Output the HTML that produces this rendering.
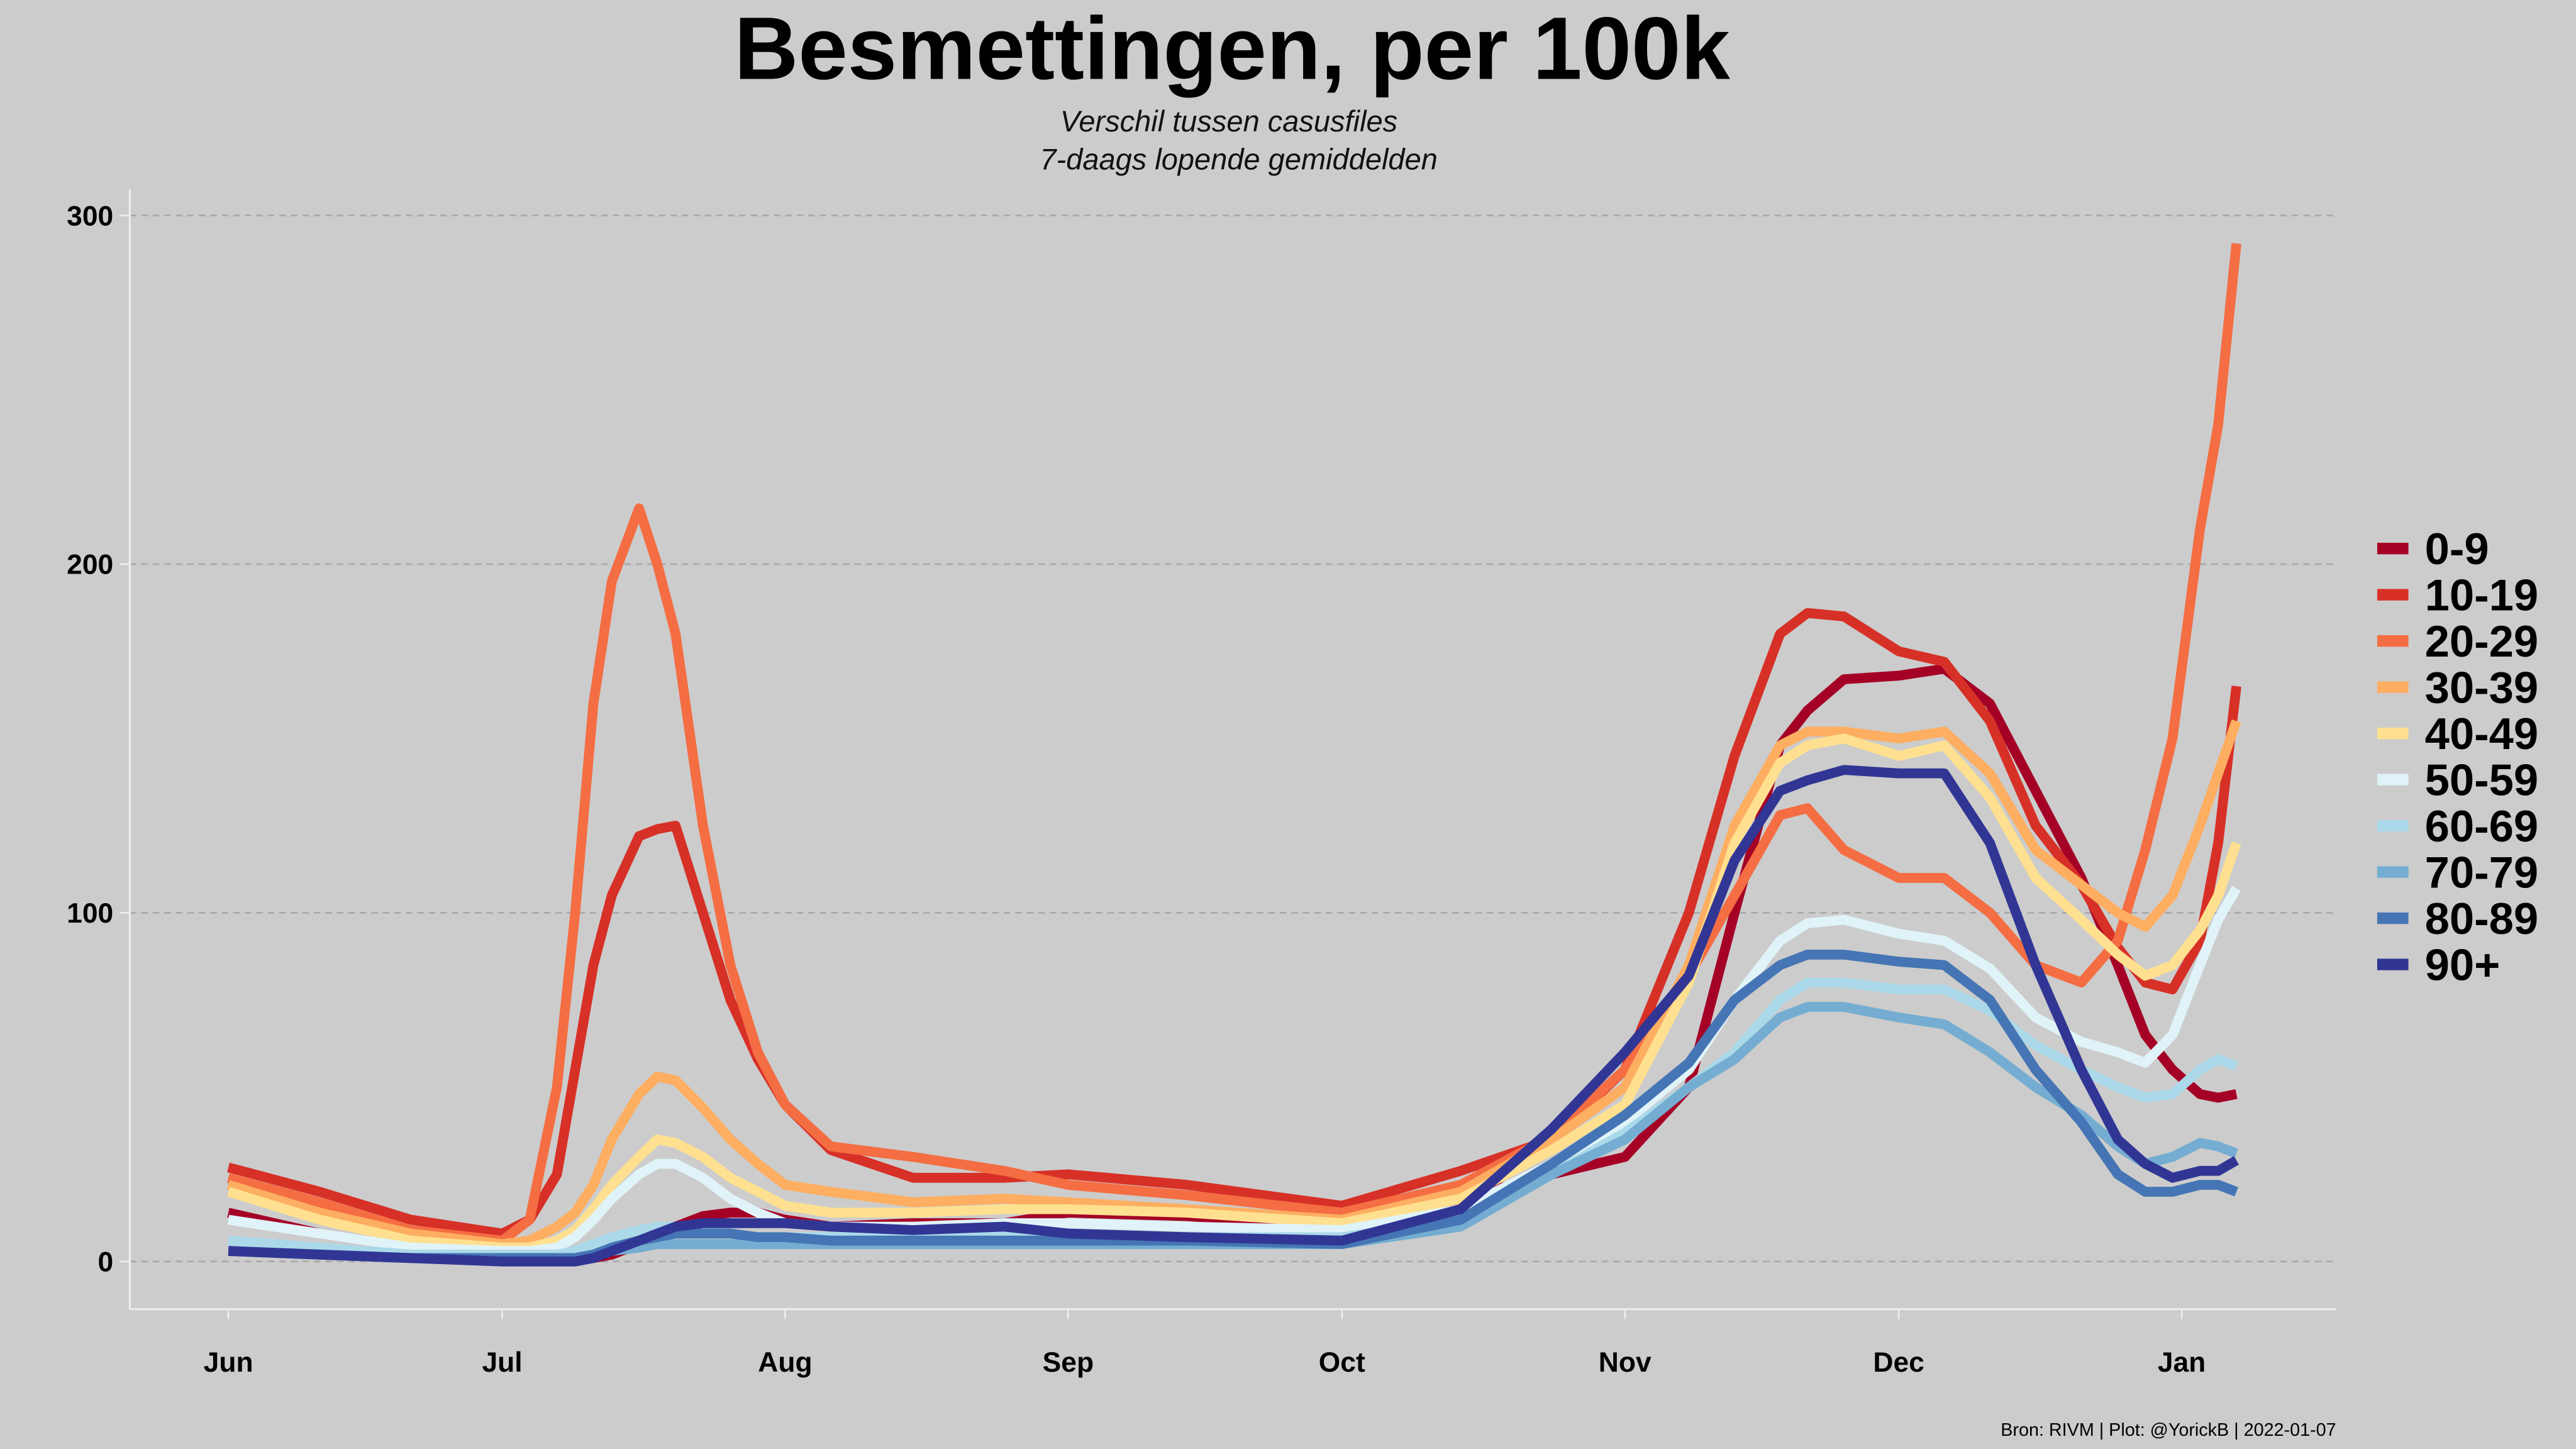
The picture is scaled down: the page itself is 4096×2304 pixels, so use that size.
<!DOCTYPE html>
<html><head><meta charset="utf-8"><style>
html,body{margin:0;padding:0;background:#cccccc;}
svg{display:block;font-family:"Liberation Sans",sans-serif;}
</style></head><body>
<svg id="chart" width="4096" height="2304" viewBox="0 0 1568 881" preserveAspectRatio="none" xmlns="http://www.w3.org/2000/svg">
<rect x="0" y="0" width="1568" height="881" fill="#cccccc"/>
<text x="750" y="48" text-anchor="middle" font-size="54" font-weight="bold" fill="#000">Besmettingen, per 100k</text>
<text x="748" y="80" text-anchor="middle" font-size="18" font-style="italic" fill="#111">Verschil tussen casusfiles</text>
<text x="754" y="103" text-anchor="middle" font-size="18" font-style="italic" fill="#111">7-daags lopende gemiddelden</text>
<g id="grid"></g>
<g id="axes"></g>
<g id="series"></g>
<g id="legend"></g>
<text x="1422" y="873" text-anchor="end" font-size="11" fill="#000">Bron: RIVM | Plot: @YorickB  |  2022-01-07</text>
</svg>
<script>
const days = [0,10,20,30,33,36,38,40,42,45,47,49,52,55,58,61,66,75,85,92,105,122,135,145,153,160,165,170,173,177,183,188,193,198,203,207,210,213,216,218,220];
const seriesNames = ["0-9","10-19","20-29","30-39","40-49","50-59","60-69","70-79","80-89","90+"];
const seriesColors = ["#a50026","#d73027","#f46d43","#fdae61","#fee090","#e0f3f8","#abd9e9","#74add1","#4575b4","#313695"];
const v0_9   = [14,8,4,2,1,1,1,1,2,5,8,10,13,14,14,12,10,11,11,14,13,10,18,25,30,50,100,148,158,167,168,170,160,135,110,85,65,55,48,47,48];
const v10_19 = [27,20,12,8,12,25,55,85,105,122,124,125,100,75,58,45,32,24,24,25,22,16,26,35,55,100,145,180,186,185,175,172,155,125,108,90,80,78,92,120,165];
const v20_29 = [24,17,9,6,12,50,100,160,195,216,200,180,125,85,60,45,33,30,26,22,19,14,22,36,55,82,105,128,130,118,110,110,100,85,80,92,118,150,210,240,292];
const v30_39 = [22,14,8,5,6,10,14,22,35,48,53,52,44,35,28,22,20,17,18,17,15,12,20,35,50,85,125,148,152,152,150,152,140,118,108,100,96,105,125,140,155];
const v40_49 = [20,12,6,4,4,6,9,15,22,30,35,34,30,24,20,16,14,14,15,15,14,11,18,32,45,80,120,143,148,150,145,148,133,110,98,88,82,85,95,105,120];
const v50_59 = [12,8,4,3,3,4,7,12,18,25,28,28,24,18,14,11,10,10,11,11,10,9,15,28,40,55,75,92,97,98,94,92,84,70,63,60,57,65,85,98,107];
const v60_69 = [6,4,2,2,2,2,3,5,7,9,10,10,9,8,7,7,7,7,8,8,7,7,12,25,37,50,60,75,80,80,78,78,72,62,55,50,47,48,55,58,56];
const v70_79 = [3,2,1,1,1,1,1,2,3,4,5,5,5,5,5,5,5,5,5,5,5,5,10,25,35,50,58,70,73,73,70,68,60,50,42,33,28,30,34,33,31];
const v80_89 = [3,2,1,1,1,1,1,2,4,6,7,8,8,8,7,7,6,6,6,6,6,5,12,28,42,57,75,85,88,88,86,85,75,55,40,25,20,20,22,22,20];
const v90p   = [3,2,1,0,0,0,0,1,3,6,8,10,11,11,11,11,10,9,10,8,7,6,15,38,60,82,115,135,138,141,140,140,120,85,55,35,28,24,26,26,29];
const seriesValues = [v0_9,v10_19,v20_29,v30_39,v40_49,v50_59,v60_69,v70_79,v80_89,v90p];
const yTicks = [0,100,200,300];
const xTickLabels = ["Jun","Jul","Aug","Sep","Oct","Nov","Dec","Jan"];
const xTickDays = [0,30,61,92,122,153,183,214];

const NS="http://www.w3.org/2000/svg";
const xScale = d => 139 + d*(1328-139)/214;
const yScale = v => 767 - v*2.12;
function mk(tag, attrs, parent){const e=document.createElementNS(NS,tag);for(const k in attrs)e.setAttribute(k,attrs[k]);parent.appendChild(e);return e;}
const grid=document.getElementById('grid'), axes=document.getElementById('axes'), ser=document.getElementById('series'), leg=document.getElementById('legend');

yTicks.forEach(t=>{
  const l=mk('line',{x1:79,x2:1422,y1:yScale(t),y2:yScale(t),stroke:'#a8a8a8','stroke-width':1,'stroke-dasharray':'4,3'},grid);
  
  
  const tk=mk('line',{x1:73,x2:79,y1:yScale(t),y2:yScale(t),stroke:'#eeeeee','stroke-width':1},axes);
  
  
  const tx=mk('text',{x:69,y:yScale(t)+6,'text-anchor':'end','font-size':17,'font-weight':'bold',fill:'#000'},axes);
  tx.textContent=t;
  
  
});
const ya=mk('line',{x1:79,x2:79,y1:115,y2:796,stroke:'#eeeeee','stroke-width':1.2},axes);


const xa=mk('line',{x1:79,x2:1422,y1:796,y2:796,stroke:'#eeeeee','stroke-width':1.2},axes);


xTickDays.forEach((d,i)=>{
  const x=xScale(d);
  const tk=mk('line',{x1:x,x2:x,y1:796,y2:802,stroke:'#eeeeee','stroke-width':1},axes);
  
  
  const tx=mk('text',{x:x,y:834,'text-anchor':'middle','font-size':17,'font-weight':'bold',fill:'#000'},axes);
  tx.textContent=xTickLabels[i];
  
  
});

seriesValues.forEach((vals,si)=>{
  const d=vals.map((v,i)=>(i?'L':'M')+xScale(days[i]).toFixed(1)+','+yScale(v).toFixed(1)).join(' ');
  const p=mk('path',{d:d,fill:'none',stroke:seriesColors[si],'stroke-width':6,'stroke-linejoin':'round','stroke-linecap':'butt'},ser);
  
  
  const y=333+si*28.1;
  const r=mk('rect',{x:1447,y:y-3,width:19,height:7,fill:seriesColors[si]},leg);
  
  
  const t=mk('text',{x:1476,y:y+10,'font-size':27,'font-weight':'bold',fill:'#000'},leg);
  t.textContent=seriesNames[si];
  
  
});
</script>
</body></html>
